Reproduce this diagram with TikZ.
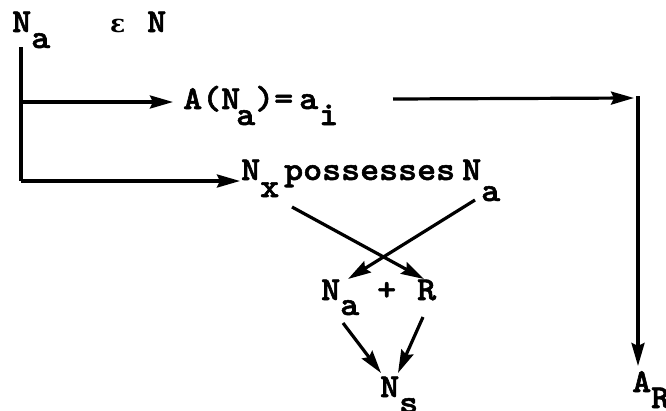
\documentclass[tikz,border=0pt]{standalone}
\usepackage{fontspec}
\usepackage{graphicx}
\usetikzlibrary{arrows.meta}
\newfontfamily\twf{lmmonolt10-bold.otf}[FakeBold=1.6]
\newfontfamily\gkf{DejaVu Serif}
\newcommand{\tw}[1]{\scalebox{1.08}[1]{#1}}
\newcommand{\lo}[2][16pt]{\raisebox{-#1}{#2}}
\tikzset{
  lbl/.style={inner sep=0pt, anchor=base west, font=\twf\fontsize{33.5}{38}\selectfont},
  gk/.style={inner sep=0pt, anchor=base west, font=\gkf\bfseries\fontsize{25}{30}\selectfont},
  wire/.style={line width=3.2pt},
  arr/.style={line width=3.2pt, -{Stealth[length=23pt,width=13pt,inset=3pt]}}
}
\begin{document}
\begin{tikzpicture}[x=1pt,y=-1pt]
\useasboundingbox (0,0) rectangle (666,410);
% labels
\node[lbl] (top) at (12,32) {\tw{N\lo{a}}};
\node[gk] (eps) at (110,32) {ε};
\node[lbl] (set) at (147,32) {\tw{N}};
\node[lbl] (ab) at (183,109) {\tw{A(N}};
\node[lbl] (abs) at (236,125) {\tw{a}};
\node[lbl] (abp) at (255,109) {\tw{)}};
\node[lbl] (abe) at (274,109) {\tw{=}};
\node[lbl] (abi) at (299,109) {\tw{a}};
\node[lbl] (abis) at (319,125) {\tw{i}};
\node[lbl] (nx) at (241,180) {\tw{N\lo[17pt]{x}}};
\node[lbl] (poss) at (284,180) {\tw{possesses}};
\node[lbl] (nb) at (462,180) {\tw{N\lo[21pt]{a}}};
\node[lbl] (na) at (321,300) {\tw{N\lo[15pt]{a}}};
\node[lbl] (plus) at (377,300) {\tw{+}};
\node[lbl] (rr) at (417,300) {\tw{R}};
\node[lbl] (ns) at (380,397) {\tw{N\lo{s}}};
\node[lbl] (ar) at (632,392) {\tw{A\lo{R}}};
% connector points
\coordinate (v0) at (21,47);
\coordinate (v1) at (21,102);
\coordinate (v2) at (21,181);
\coordinate (t1) at (173,102);
\coordinate (t2) at (240,181);
\coordinate (r0) at (393,99);
\coordinate (r1) at (634,98);
\coordinate (c0) at (638,96);
\coordinate (c1) at (638,366);
\coordinate (x0) at (292,207);
\coordinate (x1) at (424,279);
\coordinate (y0) at (475,200);
\coordinate (y1) at (348,279);
\coordinate (p0) at (343,323);
\coordinate (p1) at (381,373);
\coordinate (q0) at (423,317);
\coordinate (q1) at (398,373);
% connectors
\draw[wire] (v0) -- (v2);
\draw[arr] (v2) -- (t2);
\draw[arr] (v1) -- (t1);
\draw[arr] (r0) -- (r1);
\draw[arr] (c0) -- (c1);
\draw[arr] (x0) -- (x1);
\draw[arr] (y0) -- (y1);
\draw[arr] (p0) -- (p1);
\draw[arr] (q0) -- (q1);
\end{tikzpicture}
\end{document}
